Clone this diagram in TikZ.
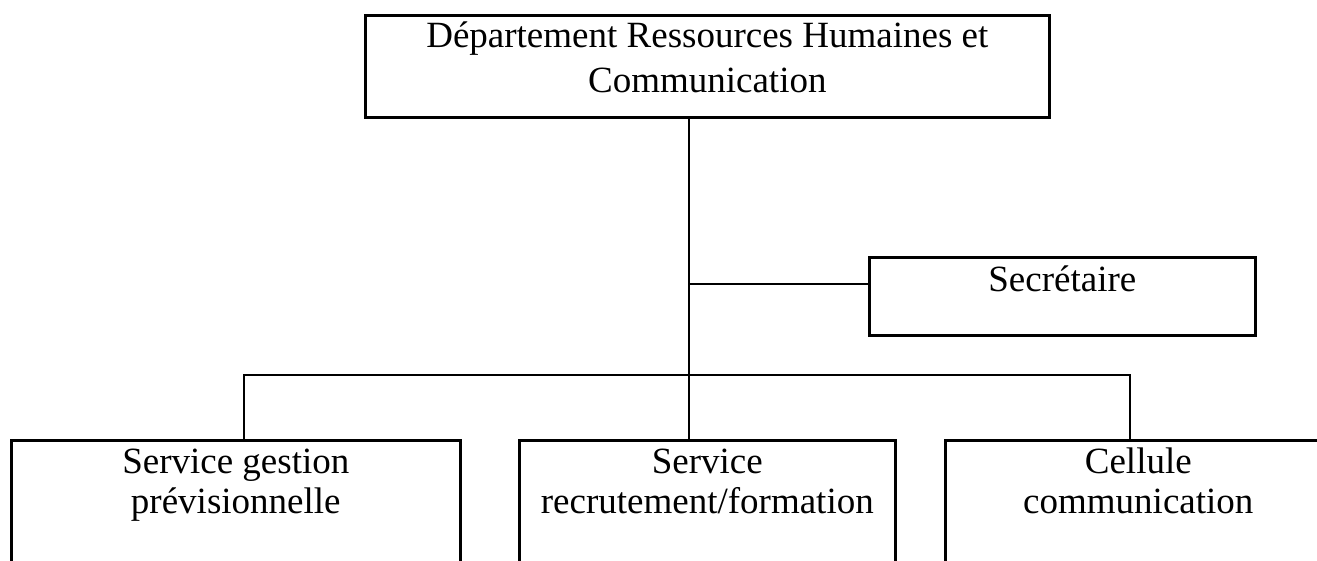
\documentclass[tikz,border=0pt]{standalone}
\usepackage{fontspec}
\setmainfont{Liberation Serif}
\begin{document}
\begin{tikzpicture}[x=1pt,y=-1pt,
  box/.style={draw, line width=2.6pt, rectangle, inner sep=0pt, anchor=north west},
  lbl/.style={font=\fontsize{37}{45}\selectfont, align=center, anchor=base, inner sep=0pt},
  sublbl/.style={lbl, font=\fontsize{37}{40}\selectfont},
  link/.style={line width=2pt}]
\useasboundingbox (0,0) rectangle (1317,560);
\clip (0,0) rectangle (1317,560);

% boxes of the organisation chart
\node[box, minimum width=684pt, minimum height=102pt] (top) at (364,14) {};
\node[box, minimum width=386pt, minimum height=78pt]  (sec) at (868,256) {};
\node[box, minimum width=449pt, minimum height=200pt] (gest) at (10,439) {};
\node[box, minimum width=376pt, minimum height=200pt] (recr) at (518,439) {};
\node[box, minimum width=386pt, minimum height=200pt] (cell) at (944,439) {};

% their texts (base anchor sits on the last line)
\node[lbl] (ttop)  at ([yshift=-78pt]top.north)  {Département Ressources Humaines et\\Communication};
\node[lbl] (tsec)  at ([yshift=-35pt]sec.north)  {Secrétaire};
\node[sublbl] (tgest) at ([yshift=-74pt]gest.north) {Service gestion\\prévisionnelle};
\node[sublbl] (trecr) at ([yshift=-74pt]recr.north) {Service\\recrutement/formation};
\node[sublbl] (tcell) at ([yshift=-74pt]cell.north) {Cellule\\communication};

% connectors
\coordinate (j)  at (689,284);
\coordinate (bl) at (244,375);
\coordinate (br) at (1130,375);
\draw[link] (top.south -| j) -- (recr.north -| j);
\draw[link] (j) -- (j -| sec.west);
\draw[link] (bl |- gest.north) -- (bl) -- (br) -- (br |- cell.north);
\end{tikzpicture}
\end{document}
